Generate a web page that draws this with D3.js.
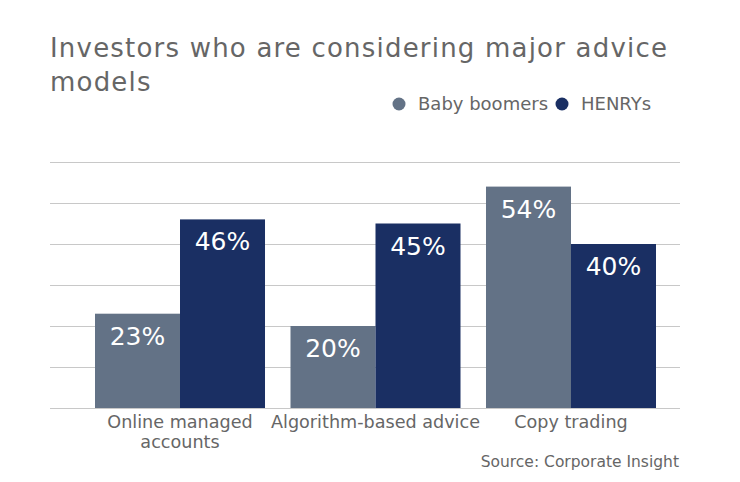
<!DOCTYPE html>
<html><head><meta charset="utf-8">
<script src="https://cdn.jsdelivr.net/npm/d3@7"></script>
<style>body{margin:0;background:#fff}svg{display:block}</style>
</head><body><svg id="c" width="740" height="482"></svg>
<script>
const categories = ["Online managed accounts","Algorithm-based advice","Copy trading"];
const categoryLines = [["Online managed","accounts"],["Algorithm-based advice"],["Copy trading"]];
const seriesNames = ["Baby boomers","HENRYs"];
const babyBoomers = [23,20,54];
const henrys = [46,45,40];
const gridTicks = [0,10,20,30,40,50,60];
const colors = ["#637286","#1a2f63"];

const svg = d3.select("#c");
const font = "DejaVu Sans, Verdana, sans-serif";
const txt = "#666666";
const y = d3.scaleLinear().domain([0,60]).range([408,162]);
const x0 = d3.scaleBand().domain(categories).range([50,701]).paddingInner(0.1304).paddingOuter(0.2302);
const x1 = d3.scaleBand().domain(seriesNames).range([0,x0.bandwidth()]);

svg.append("g").selectAll("line").data(gridTicks).join("line")
  .attr("x1",50).attr("x2",680).attr("y1",d=>Math.round(y(d))+0.5).attr("y2",d=>Math.round(y(d))+0.5)
  .attr("stroke","#c8c8c8").attr("stroke-width",1);

const data = categories.map((c,i)=>({cat:c, vals:[babyBoomers[i],henrys[i]]}));
const g = svg.append("g").selectAll("g").data(data).join("g")
  .attr("transform",d=>`translate(${x0(d.cat)},0)`);
g.selectAll("rect").data(d=>d.vals.map((v,j)=>({s:seriesNames[j],v,j}))).join("rect")
  .attr("x",d=>x1(d.s)).attr("width",x1.bandwidth())
  .attr("y",d=>y(d.v)).attr("height",d=>y(0)-y(d.v))
  .attr("fill",d=>colors[d.j]);
g.selectAll("text").data(d=>d.vals.map((v,j)=>({s:seriesNames[j],v,j}))).join("text")
  .attr("x",d=>x1(d.s)+x1.bandwidth()/2).attr("y",d=>y(d.v)+31)
  .attr("text-anchor","middle").attr("fill","#fff")
  .attr("font-family",font).attr("font-size",25).text(d=>d.v+"%");

// category labels
const cl = svg.append("g").selectAll("text").data(categories).join("text")
  .attr("x",d=>x0(d)+x0.bandwidth()/2).attr("y",428)
  .attr("text-anchor","middle").attr("fill",txt)
  .attr("font-family",font).attr("font-size",17.6);
cl.each(function(d,i){
  d3.select(this).selectAll("tspan").data(categoryLines[i]).join("tspan")
    .attr("x",x0(d)+x0.bandwidth()/2).attr("dy",(t,k)=>k?20:0).text(t=>t);
});

// title
const title = svg.append("text").attr("x",50).attr("y",57).attr("fill",txt)
  .attr("font-family",font).attr("font-size",26).attr("letter-spacing",1.2);
title.append("tspan").attr("x",50).text("Investors who are considering major advice");
title.append("tspan").attr("x",50).attr("dy",34).text("models");

// legend
const legX = [399,562];
seriesNames.forEach((s,i)=>{
  svg.append("circle").attr("cx",legX[i]).attr("cy",104).attr("r",6.5).attr("fill",colors[i]);
  svg.append("text").attr("x",legX[i]+19).attr("y",110).attr("fill",txt)
    .attr("font-family",font).attr("font-size",18).text(s);
});

svg.append("text").attr("x",679).attr("y",467).attr("text-anchor","end").attr("fill",txt)
  .attr("font-family",font).attr("font-size",15.5).text("Source: Corporate Insight");
</script></body></html>
